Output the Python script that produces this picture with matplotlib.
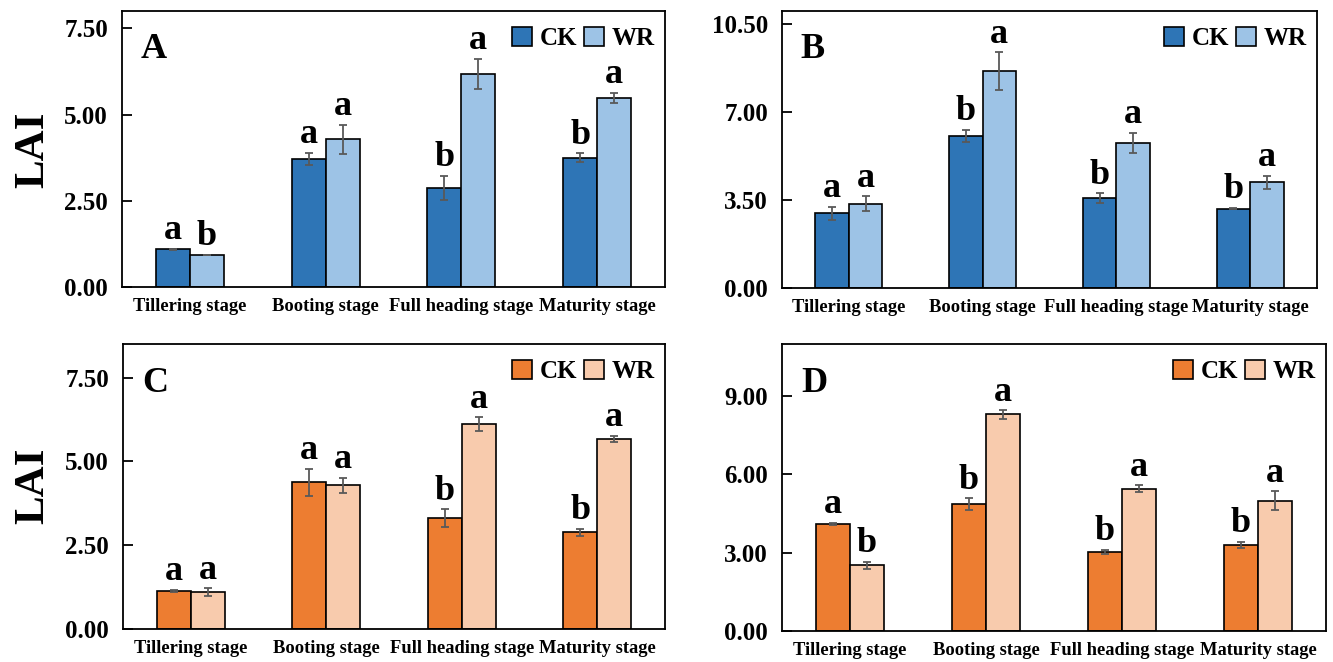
import numpy as np
import matplotlib
matplotlib.use("Agg")
import matplotlib.pyplot as plt

plt.rcParams['font.family'] = ['Liberation Serif', 'DejaVu Serif']
plt.rcParams['font.weight'] = 'bold'

stages = ['Tillering stage', 'Booting stage', 'Full heading stage', 'Maturity stage']

# panel A
a_ck = [1.09, 3.71, 2.87, 3.74]
a_wr = [0.93, 4.28, 6.18, 5.48]
a_ck_err = [0.02, 0.17, 0.35, 0.13]
a_wr_err = [0.01, 0.43, 0.44, 0.14]
a_ck_sig = ['a', 'a', 'b', 'b']
a_wr_sig = ['b', 'a', 'a', 'a']

# panel B
b_ck = [2.97, 6.03, 3.57, 3.15]
b_wr = [3.35, 8.62, 5.77, 4.19]
b_ck_err = [0.26, 0.25, 0.19, 0.03]
b_wr_err = [0.29, 0.74, 0.39, 0.26]
b_ck_sig = ['a', 'b', 'b', 'b']
b_wr_sig = ['a', 'a', 'a', 'a']

# panel C
c_ck = [1.13, 4.38, 3.30, 2.88]
c_wr = [1.09, 4.28, 6.11, 5.67]
c_ck_err = [0.03, 0.40, 0.27, 0.10]
c_wr_err = [0.12, 0.23, 0.20, 0.08]
c_ck_sig = ['a', 'a', 'b', 'b']
c_wr_sig = ['a', 'a', 'a', 'a']

# panel D
d_ck = [4.10, 4.86, 3.03, 3.29]
d_wr = [2.52, 8.30, 5.46, 5.00]
d_ck_err = [0.05, 0.22, 0.07, 0.12]
d_wr_err = [0.14, 0.16, 0.12, 0.35]
d_ck_sig = ['a', 'b', 'b', 'b']
d_wr_sig = ['b', 'a', 'a', 'a']

blue = ('#2E75B6', '#9DC3E6')
orange = ('#ED7D31', '#F8CBAD')

fig = plt.figure(figsize=(13.33, 6.62), dpi=100)

W, H = 1333, 662


def box(l, t, r, b):
    return [l / W, 1 - b / H, (r - l) / W, (b - t) / H]


def panel(rect, label, ck, wr, ck_err, wr_err, ck_sig, wr_sig, colors, ymax, yticks):
    ax = fig.add_axes(rect)
    x = np.arange(len(stages))
    w = 0.25
    ekw = dict(ecolor='#595959', elinewidth=1.3, capsize=3, capthick=1.3)
    ax.bar(x - w / 2, ck, w, yerr=ck_err, color=colors[0], edgecolor='black',
           linewidth=1.2, error_kw=ekw, label='CK', zorder=2)
    ax.bar(x + w / 2, wr, w, yerr=wr_err, color=colors[1], edgecolor='black',
           linewidth=1.2, error_kw=ekw, label='WR', zorder=2)
    for xi, v, e, s in zip(x - w / 2, ck, ck_err, ck_sig):
        ax.annotate(s, (xi, v + e), xytext=(0, 7), textcoords='offset points',
                    ha='center', va='baseline', fontsize=26, fontweight='bold')
    for xi, v, e, s in zip(x + w / 2, wr, wr_err, wr_sig):
        ax.annotate(s, (xi, v + e), xytext=(0, 7), textcoords='offset points',
                    ha='center', va='baseline', fontsize=26, fontweight='bold')
    ax.set_xlim(-0.5, 3.5)
    ax.set_ylim(0, ymax)
    ax.set_yticks(yticks)
    ax.set_yticklabels(['%.2f' % t for t in yticks])
    ax.set_xticks(x)
    ax.set_xticklabels(stages)
    ax.tick_params(axis='y', direction='in', length=7, width=1.3, labelsize=18, pad=10)
    ax.tick_params(axis='x', length=0, labelsize=13.3, pad=8)
    for sp in ax.spines.values():
        sp.set_linewidth(1.3)
    ax.text(0.035, 0.92, label, transform=ax.transAxes, ha='left', va='top',
            fontsize=26, fontweight='bold')
    ax.legend(loc='upper right', bbox_to_anchor=(1.0, 0.98), ncol=2, frameon=False,
              fontsize=18, handlelength=0.8, handleheight=0.8, handletextpad=0.3,
              columnspacing=0.3, borderaxespad=0.1, borderpad=0.3)
    return ax


panel(box(122, 11, 665, 287), 'A', a_ck, a_wr, a_ck_err, a_wr_err,
      a_ck_sig, a_wr_sig, blue, 8.0, [0, 2.5, 5.0, 7.5])
panel(box(782, 11, 1317, 288), 'B', b_ck, b_wr, b_ck_err, b_wr_err,
      b_ck_sig, b_wr_sig, blue, 11.0, [0, 3.5, 7.0, 10.5])
panel(box(123, 344, 665, 629), 'C', c_ck, c_wr, c_ck_err, c_wr_err,
      c_ck_sig, c_wr_sig, orange, 8.5, [0, 2.5, 5.0, 7.5])
panel(box(782, 344, 1326, 631), 'D', d_ck, d_wr, d_ck_err, d_wr_err,
      d_ck_sig, d_wr_sig, orange, 11.0, [0, 3.0, 6.0, 9.0])

fig.text(33 / W, 1 - 150 / H, 'LAI', rotation=90, ha='center', va='center',
         fontsize=31, fontweight='bold')
fig.text(33 / W, 1 - 486 / H, 'LAI', rotation=90, ha='center', va='center',
         fontsize=31, fontweight='bold')

fig.savefig('out.png', dpi=100)
